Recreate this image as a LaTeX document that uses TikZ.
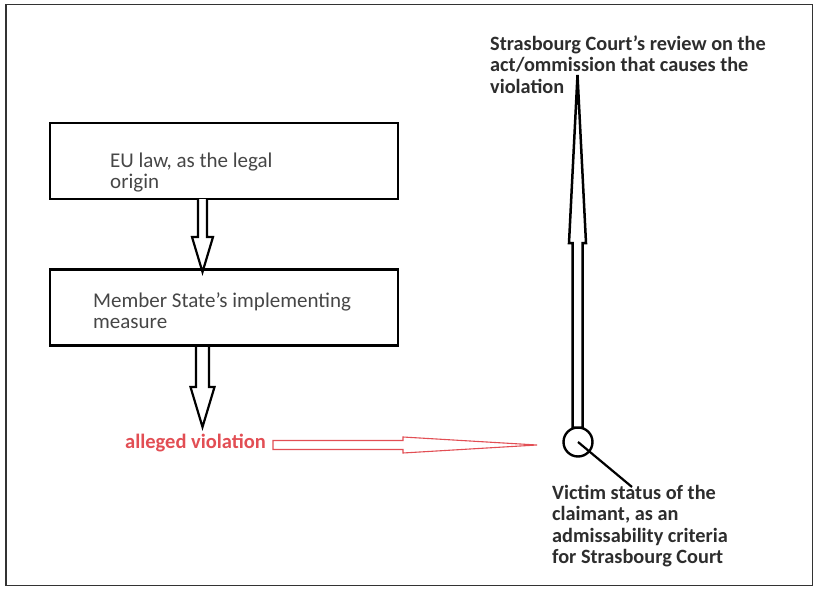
\documentclass[tikz,border=0pt]{standalone}
\usepackage{fontspec}
\setmainfont{Carlito}
\usetikzlibrary{calc}
\definecolor{redline}{RGB}{226,78,84}
\definecolor{txtgray}{RGB}{70,70,70}
\definecolor{txtdark}{RGB}{45,45,45}
\newcommand{\sq}{\char"27\relax}
\begin{document}
\begin{tikzpicture}[x=1pt,y=-1pt,
  boxst/.style={draw=black, line width=2.4pt, minimum width=348pt, minimum height=76pt, inner sep=0pt},
  blockarrow/.style={draw=black, line width=2.2pt, fill=white, line join=miter},
  thinarrow/.style={draw=black, line width=2.5pt, fill=white, line join=miter},
  redarrow/.style={draw=redline, line width=1.1pt, fill=white},
  regtext/.style={anchor=base west, inner sep=0pt, text=txtgray, font=\fontsize{21}{21}\selectfont},
  boldtext/.style={anchor=base west, inner sep=0pt, text=txtdark, font=\fontsize{20.3}{21.5}\selectfont\bfseries},
]
\useasboundingbox (0,0) rectangle (817,589);
\draw[black!80, line width=1.8pt] (6,4.5) rectangle (812.5,585.5);

% boxes
\node[boxst] (box1) at (224,161) {};
\node[boxst] (box2) at (224,307.5) {};
\node[regtext] (t1) at (110,167) {\begin{tabular}[t]{@{}l@{}}EU law, as the legal\\origin\end{tabular}};
\node[regtext] (t2) at (93,307) {\begin{tabular}[t]{@{}l@{}}Member State\sq s implementing\\measure\end{tabular}};

% block arrows
\coordinate (a1s) at (202.5,199);
\coordinate (a1e) at (202.5,272);
\draw[blockarrow] ($(a1s)+(-4.5,0)$) -- ($(a1s)+(-4.5,38)$) -- ($(a1s)+(-10.5,38)$) -- (a1e)
  -- ($(a1s)+(10.5,38)$) -- ($(a1s)+(4.5,38)$) -- ($(a1s)+(4.5,0)$);
\coordinate (a2s) at (202.5,347);
\coordinate (a2e) at (202.5,427);
\draw[blockarrow] ($(a2s)+(-6.5,0)$) -- ($(a2s)+(-6.5,40)$) -- ($(a2s)+(-12,40)$) -- (a2e)
  -- ($(a2s)+(12,40)$) -- ($(a2s)+(6.5,40)$) -- ($(a2s)+(6.5,0)$);

% alleged violation
\node[boldtext, text=redline, font=\fontsize{20.5}{21}\selectfont\bfseries] (alleged) at (125,448) {alleged violation};
\coordinate (rtip) at (537,445);
\draw[redarrow] (273,440.5) -- (403,440.5) -- (403,437) -- (rtip) -- (403,453) -- (403,449.5) -- (273,449.5) -- cycle;

% vertical arrow and circle
\node[draw=black, line width=2.4pt, circle, minimum size=29pt, inner sep=0pt] (circ) at (578,442) {};
\coordinate (vtip) at (577.5,75);
\draw[thinarrow] (572.5,427.5) -- (572.5,243) -- (569,243) -- (vtip) -- (586,243) -- (582.5,243) -- (582.5,427.5) -- cycle;
\coordinate (vend) at (632,487);
\draw[black, line width=2.2pt] (circ.center) -- (vend);

% right texts
\node[boldtext] (court) at (490,50) {\begin{tabular}[t]{@{}l@{}}Strasbourg Court\sq s review on the\\act/ommission that causes the\\violation\end{tabular}};
\node[boldtext] (victim) at (552,499) {\begin{tabular}[t]{@{}l@{}}Victim status of the\\claimant, as an\\admissability criteria\\for Strasbourg Court\end{tabular}};
\end{tikzpicture}
\end{document}
